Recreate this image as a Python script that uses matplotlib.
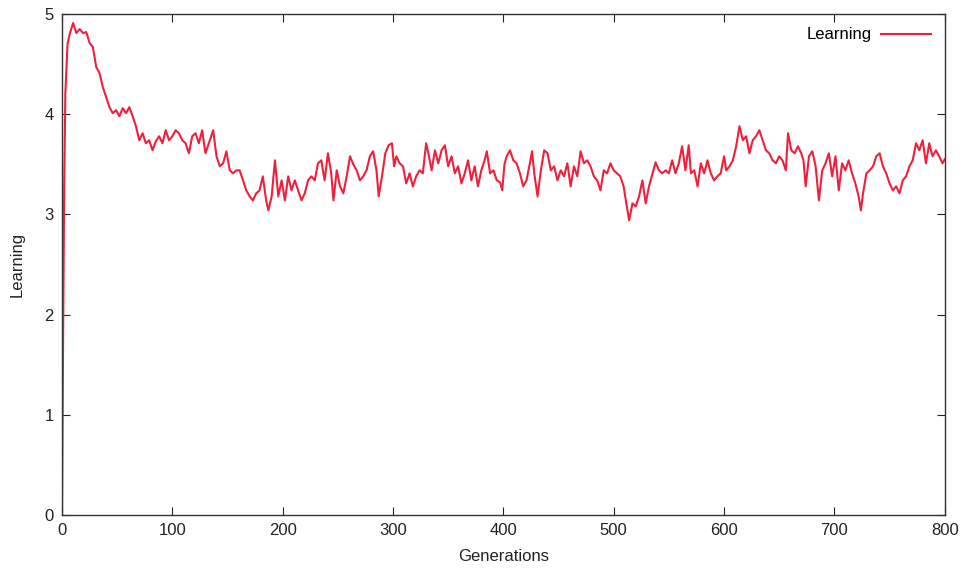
import matplotlib
matplotlib.use("Agg")
import matplotlib.pyplot as plt

# values (generation, learning)
generations = [
    0, 1, 2, 3, 5, 7, 10, 13, 16, 19, 22, 25, 28, 31, 34, 37, 40, 43, 46, 49,
    52, 55, 58, 61, 64, 67, 70, 73, 76, 79, 82, 85, 88, 91, 94, 97, 100, 103, 106, 109,
    112, 115, 118, 121, 124, 127, 130, 133, 137, 140, 143, 146, 149, 152, 155, 158, 161, 164, 167, 170,
    173, 176, 179, 182, 185, 187, 190, 193, 196, 199, 202, 205, 208, 211, 214, 217, 220, 223, 226, 229,
    232, 235, 238, 241, 244, 246, 249, 252, 255, 258, 261, 264, 267, 270, 273, 276, 279, 282, 285, 287,
    290, 293, 296, 299, 301, 303, 306, 309, 312, 315, 318, 321, 324, 327, 330, 332, 335, 338, 341, 344,
    347, 350, 353, 356, 359, 362, 365, 368, 371, 374, 377, 380, 383, 385, 388, 391, 394, 397, 399, 401,
    403, 406, 409, 412, 415, 418, 421, 424, 426, 428, 431, 434, 437, 440, 443, 446, 449, 452, 455, 458,
    461, 464, 467, 470, 473, 476, 479, 482, 485, 488, 491, 494, 497, 500, 503, 506, 509, 511, 514, 517,
    520, 523, 526, 529, 532, 535, 538, 541, 544, 547, 550, 553, 556, 559, 562, 565, 568, 570, 573, 576,
    579, 582, 585, 588, 591, 594, 597, 600, 602, 605, 608, 611, 614, 617, 620, 623, 626, 629, 632, 635,
    638, 641, 644, 647, 650, 653, 656, 658, 661, 664, 667, 670, 672, 674, 677, 680, 683, 686, 689, 692,
    695, 698, 701, 704, 707, 710, 713, 716, 719, 722, 724, 726, 729, 732, 735, 738, 741, 744, 747, 750,
    753, 756, 759, 762, 765, 768, 771, 774, 777, 780, 783, 786, 789, 792, 795, 798, 800,
]
learning = [
    0.0, 1.8, 3.3, 4.2, 4.7, 4.8, 4.91, 4.81, 4.85, 4.81, 4.82, 4.71, 4.67, 4.47, 4.41, 4.27, 4.17, 4.07, 4.01, 4.04,
    3.98, 4.06, 4.01, 4.07, 3.98, 3.88, 3.74, 3.81, 3.71, 3.74, 3.64, 3.73, 3.78, 3.71, 3.84, 3.74, 3.78, 3.84, 3.81, 3.74,
    3.71, 3.61, 3.78, 3.81, 3.71, 3.84, 3.61, 3.71, 3.84, 3.58, 3.48, 3.51, 3.63, 3.44, 3.41, 3.44, 3.44, 3.34, 3.24, 3.18,
    3.14, 3.21, 3.24, 3.38, 3.14, 3.04, 3.18, 3.54, 3.18, 3.34, 3.14, 3.38, 3.24, 3.34, 3.24, 3.14, 3.21, 3.34, 3.38, 3.34,
    3.51, 3.54, 3.34, 3.61, 3.41, 3.14, 3.44, 3.28, 3.21, 3.38, 3.58, 3.50, 3.44, 3.34, 3.38, 3.44, 3.58, 3.63, 3.44, 3.18,
    3.38, 3.61, 3.69, 3.71, 3.48, 3.58, 3.51, 3.48, 3.31, 3.41, 3.28, 3.38, 3.44, 3.41, 3.71, 3.61, 3.44, 3.64, 3.51, 3.64,
    3.69, 3.48, 3.58, 3.41, 3.48, 3.31, 3.41, 3.54, 3.34, 3.48, 3.28, 3.44, 3.54, 3.63, 3.41, 3.44, 3.34, 3.32, 3.24, 3.50,
    3.58, 3.64, 3.54, 3.51, 3.41, 3.28, 3.34, 3.51, 3.63, 3.41, 3.18, 3.44, 3.64, 3.61, 3.44, 3.48, 3.34, 3.44, 3.38, 3.51,
    3.28, 3.48, 3.38, 3.63, 3.51, 3.54, 3.48, 3.38, 3.34, 3.24, 3.44, 3.41, 3.51, 3.44, 3.41, 3.38, 3.28, 3.14, 2.94, 3.11,
    3.08, 3.18, 3.34, 3.11, 3.28, 3.40, 3.52, 3.44, 3.41, 3.44, 3.41, 3.54, 3.41, 3.51, 3.68, 3.44, 3.69, 3.41, 3.44, 3.28,
    3.51, 3.41, 3.54, 3.41, 3.34, 3.38, 3.41, 3.58, 3.44, 3.48, 3.54, 3.68, 3.88, 3.74, 3.78, 3.61, 3.74, 3.78, 3.84, 3.74,
    3.64, 3.61, 3.54, 3.51, 3.58, 3.54, 3.44, 3.81, 3.64, 3.61, 3.68, 3.61, 3.54, 3.28, 3.58, 3.63, 3.48, 3.14, 3.44, 3.51,
    3.61, 3.38, 3.58, 3.24, 3.51, 3.44, 3.54, 3.41, 3.31, 3.18, 3.04, 3.21, 3.41, 3.44, 3.48, 3.58, 3.61, 3.48, 3.41, 3.31,
    3.24, 3.28, 3.21, 3.34, 3.38, 3.48, 3.54, 3.71, 3.64, 3.74, 3.51, 3.71, 3.58, 3.64, 3.58, 3.51, 3.55,
]

x_ticks = [0, 100, 200, 300, 400, 500, 600, 700, 800]
y_ticks = [0, 1, 2, 3, 4, 5]

plt.rcParams['font.family'] = ['Liberation Sans', 'DejaVu Sans']

fig = plt.figure(figsize=(9.63, 5.77), dpi=100)
ax = fig.add_axes([0.0644, 0.1075, 0.9166, 0.8682])

ax.plot(generations, learning, color='#f0203c', linewidth=1.5, label='Learning')

ax.set_xlim(0, 800)
ax.set_ylim(0, 5)
ax.set_xticks(x_ticks)
ax.set_yticks(y_ticks)
ax.tick_params(direction='in', top=True, right=True, length=6, width=0.8,
               labelsize=12, colors='#222222', pad=6)
for s in ax.spines.values():
    s.set_color('#333333')
    s.set_linewidth(1.0)

ax.set_xlabel('Generations', fontsize=12, color='#222222', labelpad=8)
ax.set_ylabel('Learning', fontsize=12, color='#222222', labelpad=14)

ax.legend(loc='upper right', frameon=False, markerfirst=False, fontsize=12,
          handlelength=3.0, borderaxespad=0.4, handletextpad=0.6)

fig.savefig('out.png', dpi=100)
